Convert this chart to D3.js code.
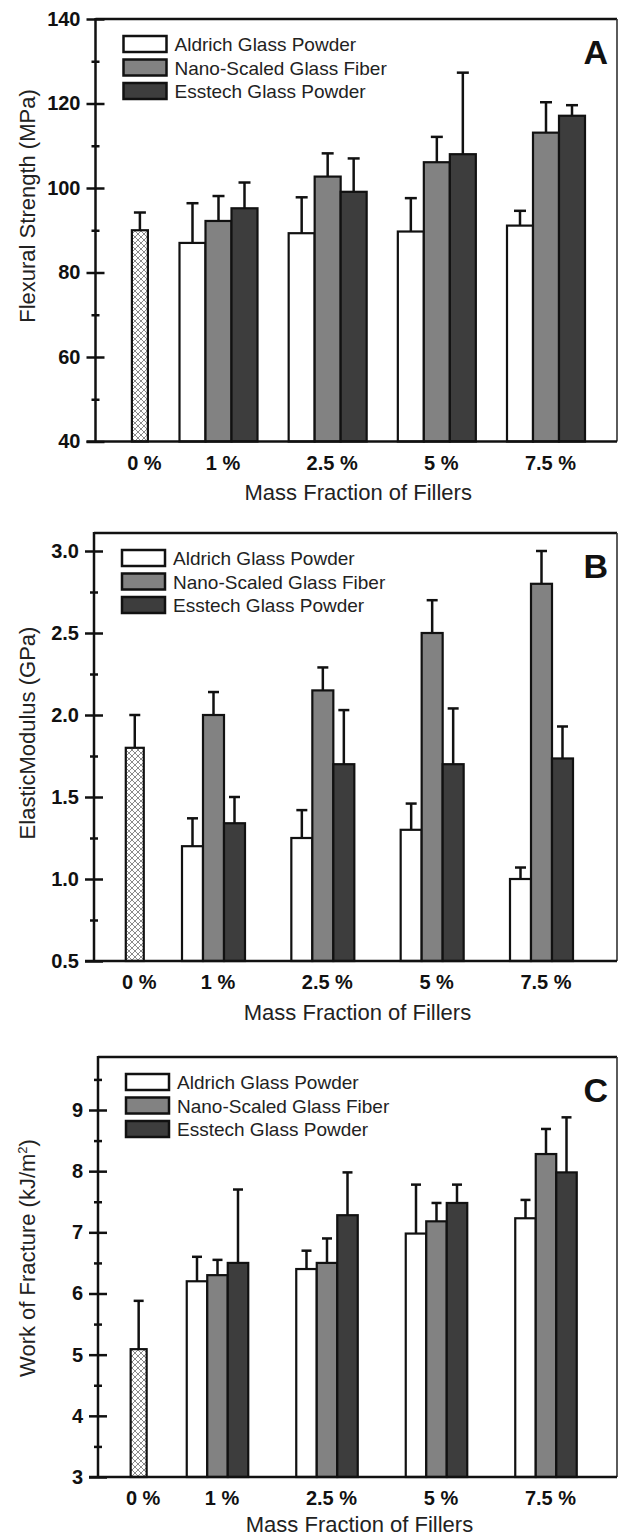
<!DOCTYPE html>
<html>
<head>
<meta charset="utf-8">
<script src="https://cdn.jsdelivr.net/npm/d3@7"></script>
<style>
    body { margin: 0; background: #fff; }
    svg { display: block; font-family: "Liberation Sans", Arial, Helvetica, sans-serif; }
</style>
</head>
<body>
<svg id="chart" width="619" height="1536"></svg>
<script>
// Data
const CATEGORIES = ['0 %', '1 %', '2.5 %', '5 %', '7.5 %'];
const SERIES = ['Aldrich Glass Powder', 'Nano-Scaled Glass Fiber', 'Esstech Glass Powder'];
const SERIES_FILL = ['#ffffff', '#828282', '#3d3d3d'];

// A: flexural strength (MPa), filled groups 1 %, 2.5 %, 5 %, 7.5 %
const FLEX_CONTROL = [90.0, 4.2];           // mean, sd
const FLEX_ALDRICH = [87.0, 89.3, 89.7, 91.1];
const FLEX_ALDRICH_SD = [9.4, 8.5, 7.9, 3.5];
const FLEX_NANO = [92.2, 102.7, 106.1, 113.1];
const FLEX_NANO_SD = [5.9, 5.5, 6.0, 7.2];
const FLEX_ESSTECH = [95.2, 99.1, 108.0, 117.1];
const FLEX_ESSTECH_SD = [6.1, 7.9, 19.3, 2.5];

// B: elastic modulus (GPa)
const MOD_CONTROL = [1.80, 0.20];
const MOD_ALDRICH = [1.20, 1.25, 1.30, 1.00];
const MOD_ALDRICH_SD = [0.17, 0.17, 0.16, 0.07];
const MOD_NANO = [2.00, 2.15, 2.50, 2.80];
const MOD_NANO_SD = [0.14, 0.14, 0.20, 0.20];
const MOD_ESSTECH = [1.34, 1.70, 1.70, 1.735];
const MOD_ESSTECH_SD = [0.16, 0.33, 0.34, 0.195];

// C: work of fracture (kJ/m2)
const WOF_CONTROL = [5.09, 0.79];
const WOF_ALDRICH = [6.2, 6.4, 6.98, 7.23];
const WOF_ALDRICH_SD = [0.4, 0.3, 0.8, 0.3];
const WOF_NANO = [6.3, 6.5, 7.18, 8.28];
const WOF_NANO_SD = [0.25, 0.4, 0.3, 0.41];
const WOF_ESSTECH = [6.5, 7.28, 7.48, 7.98];
const WOF_ESSTECH_SD = [1.2, 0.7, 0.3, 0.9];

// Y ticks
const FLEX_MAJOR = [40, 60, 80, 100, 120, 140];
const FLEX_MINOR = [50, 70, 90, 110, 130];
const MOD_MAJOR = [0.5, 1.0, 1.5, 2.0, 2.5, 3.0];
const MOD_MINOR = [0.75, 1.25, 1.75, 2.25, 2.75];
const WOF_MAJOR = [3, 4, 5, 6, 7, 8, 9];
const WOF_MINOR = [3.5, 4.5, 5.5, 6.5, 7.5, 8.5, 9.5];

// control bar sits a bit closer to the first filler group
const CONTROL_SLOT = 0.28;

const panels = [
    {
        letter: 'A', yTitle: 'Flexural Strength (MPa)', fmt: d3.format('d'),
        control: FLEX_CONTROL,
        means: [FLEX_ALDRICH, FLEX_NANO, FLEX_ESSTECH],
        sds: [FLEX_ALDRICH_SD, FLEX_NANO_SD, FLEX_ESSTECH_SD],
        major: FLEX_MAJOR, minor: FLEX_MINOR,
        left: 95.5, right: 617, frameTop: 19, bottom: 441.5, top: 19,
        g1: 218.5, g4: 546, barW: 26, ctrlW: 16, capW: 12,
        yTitleMid: 206, xTitleGap: 58
    },
    {
        letter: 'B', yTitle: 'ElasticModulus (GPa)', fmt: d3.format('.1f'),
        control: MOD_CONTROL,
        means: [MOD_ALDRICH, MOD_NANO, MOD_ESSTECH],
        sds: [MOD_ALDRICH_SD, MOD_NANO_SD, MOD_ESSTECH_SD],
        major: MOD_MAJOR, minor: MOD_MINOR,
        left: 94, right: 617, frameTop: 533, bottom: 961, top: 551,
        g1: 213.5, g4: 541.5, barW: 21, ctrlW: 18, capW: 11,
        yTitleMid: 733, xTitleGap: 59
    },
    {
        letter: 'C', yTitle: 'Work of Fracture (kJ/m', sup: '2', fmt: d3.format('d'),
        control: WOF_CONTROL,
        means: [WOF_ALDRICH, WOF_NANO, WOF_ESSTECH],
        sds: [WOF_ALDRICH_SD, WOF_NANO_SD, WOF_ESSTECH_SD],
        major: WOF_MAJOR, minor: WOF_MINOR,
        left: 98, right: 617, frameTop: 1057, bottom: 1477, top: 1110,
        g1: 217.5, g4: 546, barW: 20.5, ctrlW: 16, capW: 10,
        yTitleMid: 1258, xTitleGap: 55
    }
];

const svg = d3.select('#chart');

// crosshatch for the unfilled control
const defs = svg.append('defs');
const pat = defs.append('pattern')
    .attr('id', 'hatch')
    .attr('patternUnits', 'userSpaceOnUse')
    .attr('width', 6).attr('height', 6);
pat.append('rect').attr('width', 6).attr('height', 6).attr('fill', '#fff');
pat.append('path')
    .attr('d', 'M0,0L6,6M6,0L0,6M-1,5L1,7M5,-1L7,1M-1,1L1,-1M5,7L7,5')
    .attr('stroke', '#8a8a8a').attr('stroke-width', 1);

function drawPanel(p) {
    const g = svg.append('g');
    const yMin = p.major[0], yMax = p.major[p.major.length - 1];
    const y = d3.scaleLinear().domain([yMin, yMax]).range([p.bottom, p.top]);
    const x = d3.scaleLinear().domain([1, 4]).range([p.g1, p.g4]);

    // frame (top + right)
    g.append('line')
        .attr('x1', p.left).attr('x2', p.right)
        .attr('y1', p.frameTop).attr('y2', p.frameTop)
        .attr('stroke', '#111').attr('stroke-width', 2.5);
    g.append('line')
        .attr('x1', p.right).attr('x2', p.right)
        .attr('y1', p.frameTop).attr('y2', p.bottom)
        .attr('stroke', '#333').attr('stroke-width', 1.6);

    // bars
    const rows = [];
    rows.push({cx: x(CONTROL_SLOT), w: p.ctrlW, mean: p.control[0], sd: p.control[1], fill: 'url(#hatch)'});
    p.means.forEach((arr, s) => {
        arr.forEach((m, i) => {
            rows.push({
                cx: x(i + 1) + (s - 1) * p.barW,
                w: p.barW, mean: m, sd: p.sds[s][i], fill: SERIES_FILL[s]
            });
        });
    });

    const err = g.append('g').attr('stroke', '#111').attr('stroke-width', 2.5);
    err.selectAll('line.v').data(rows).join('line')
        .attr('class', 'v')
        .attr('x1', d => d.cx).attr('x2', d => d.cx)
        .attr('y1', d => y(d.mean)).attr('y2', d => y(d.mean + d.sd));
    err.selectAll('line.cap').data(rows).join('line')
        .attr('class', 'cap')
        .attr('x1', d => d.cx - p.capW / 2).attr('x2', d => d.cx + p.capW / 2)
        .attr('y1', d => y(d.mean + d.sd)).attr('y2', d => y(d.mean + d.sd));

    g.append('g').selectAll('rect').data(rows).join('rect')
        .attr('x', d => d.cx - d.w / 2)
        .attr('y', d => y(d.mean))
        .attr('width', d => d.w)
        .attr('height', d => p.bottom - y(d.mean))
        .attr('fill', d => d.fill)
        .attr('stroke', '#111')
        .attr('stroke-width', 2.2);

    // y axis: major ticks cross the spine
    const gy = g.append('g').attr('transform', `translate(${p.left},0)`);
    gy.call(d3.axisLeft(y).tickValues(p.major).tickFormat(p.fmt).tickSize(9).tickPadding(6));
    gy.select('.domain').remove();
    gy.selectAll('.tick line').attr('x1', 9).attr('x2', -9)
        .attr('stroke', '#111').attr('stroke-width', 2.5);
    gy.selectAll('.tick text')
        .attr('fill', '#111')
        .style('font-size', '20px').style('font-weight', 'bold')
        .style('font-family', '"Liberation Sans", Arial, sans-serif');

    const gm = g.append('g').attr('transform', `translate(${p.left},0)`);
    gm.call(d3.axisLeft(y).tickValues(p.minor).tickFormat('').tickSize(4));
    gm.select('.domain').remove();
    gm.selectAll('.tick line').attr('x1', 4).attr('x2', -4)
        .attr('stroke', '#111').attr('stroke-width', 2.5);

    g.append('line')
        .attr('x1', p.left).attr('x2', p.left)
        .attr('y1', p.frameTop - 1).attr('y2', p.bottom)
        .attr('stroke', '#111').attr('stroke-width', 2.5);

    // x axis: labels only, plus baseline
    const gx = g.append('g').attr('transform', `translate(4,${p.bottom})`);
    gx.call(d3.axisBottom(x)
        .tickValues([CONTROL_SLOT, 1, 2, 3, 4])
        .tickFormat((d, i) => CATEGORIES[i])
        .tickSize(0).tickPadding(14));
    gx.select('.domain').remove();
    gx.selectAll('.tick text')
        .attr('fill', '#111')
        .style('font-size', '20px').style('font-weight', 'bold')
        .style('font-family', '"Liberation Sans", Arial, sans-serif');

    g.append('line')
        .attr('x1', p.left - 9).attr('x2', p.right)
        .attr('y1', p.bottom).attr('y2', p.bottom)
        .attr('stroke', '#111').attr('stroke-width', 2.5);

    // axis titles
    g.append('text')
        .attr('x', (p.left + p.right) / 2 + 2)
        .attr('y', p.bottom + p.xTitleGap)
        .attr('text-anchor', 'middle')
        .attr('fill', '#222')
        .style('font-size', '22px')
        .text('Mass Fraction of Fillers');

    const yt = g.append('text')
        .attr('transform', `translate(35,${p.yTitleMid}) rotate(-90)`)
        .attr('text-anchor', 'middle')
        .attr('fill', '#222')
        .style('font-size', '22px')
        .text(p.yTitle);
    if (p.sup) {
        yt.append('tspan').attr('dy', -8).style('font-size', '13px').text(p.sup);
        yt.append('tspan').attr('dy', 8).text(')');
    }

    // panel letter
    g.append('text')
        .attr('x', 608).attr('y', p.frameTop + 45)
        .attr('text-anchor', 'end')
        .attr('fill', '#111')
        .style('font-size', '34px').style('font-weight', 'bold')
        .text(p.letter);

    // legend
    const lg = g.append('g').attr('transform', `translate(${p.left + 28},${p.frameTop + 17})`);
    const item = lg.selectAll('g').data(SERIES).join('g')
        .attr('transform', (d, i) => `translate(0,${i * 23.5})`);
    item.append('rect')
        .attr('width', 43).attr('height', 16)
        .attr('fill', (d, i) => SERIES_FILL[i])
        .attr('stroke', '#111').attr('stroke-width', 2.5);
    item.append('text')
        .attr('x', 51).attr('y', 15)
        .attr('fill', '#222')
        .style('font-size', '19px')
        .text(d => d);
}

panels.forEach(drawPanel);
</script>
</body>
</html>
